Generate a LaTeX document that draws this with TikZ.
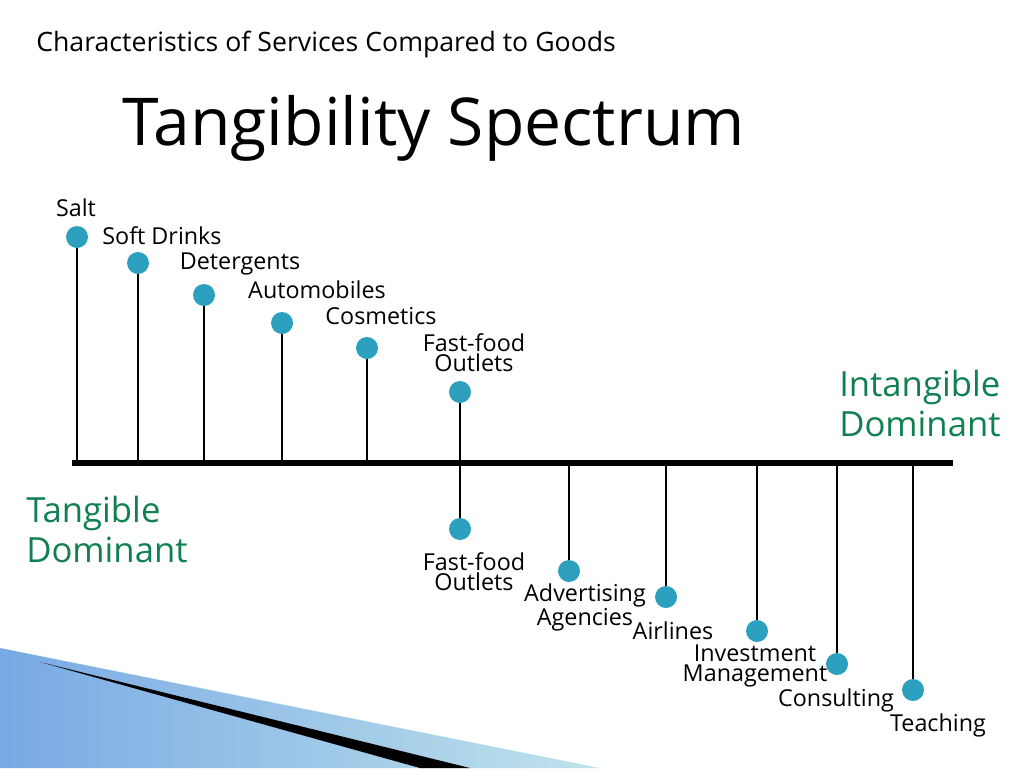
\documentclass[tikz,border=0pt]{standalone}
\usepackage{fontspec}
\setmainfont{Open Sans}
\definecolor{dot}{RGB}{44,160,190}
\definecolor{grn}{RGB}{16,128,80}
\begin{document}
\begin{tikzpicture}[x=0.75pt,y=-0.75pt,
  dotc/.style={circle,fill=dot,inner sep=0pt,minimum size=16.5pt},
  lab/.style={font=\fontsize{17.5}{15}\selectfont,align=center,inner sep=0pt},
  stem/.style={line width=0.9pt},
  dom/.style={font=\fontsize{26}{30}\selectfont,text=grn,align=left,inner sep=0pt,anchor=west}]
\useasboundingbox (0,0) rectangle (1024,768);
% decoration bottom-left
\shade[left color=dot!70!blue!60, right color=dot!30] (0,648) -- (600,768) -- (0,768) -- cycle;
\fill[black] (40,662) -- (470,768) -- (420,768) -- cycle;
\node[anchor=west,font=\fontsize{20}{22}\selectfont,inner sep=0pt] (t1) at (36,44) {Characteristics of Services Compared to Goods};
\node[anchor=west,font=\fontsize{49.5}{55}\selectfont,inner sep=0pt] (t2) at (122,128) {Tangibility Spectrum};
\coordinate (a0) at (72,463); \coordinate (a1) at (953,463);
\draw[line width=4pt] (a0) -- (a1);
% top
\foreach \n/\x/\y in {s1/77/237,s2/138/263,s3/204/295,s4/282/323,s5/367/348,s6/460/392}{
  \node[dotc] (\n) at (\x,\y) {};
  \coordinate (\n b) at (\x,463);
  \draw[stem] (\n) -- (\n b);
}
\node[lab] (l1) at (76,208) {Salt};
\node[lab] (l2) at (162,236) {Soft Drinks};
\node[lab] (l3) at (240,264) {Detergents};
\node[lab] (l4) at (317,290) {Automobiles};
\node[lab] (l5) at (381,316) {Cosmetics};
\node[lab] (l6) at (474,353) {Fast-food\\Outlets};
% bottom
\foreach \n/\x/\y in {b1/460/529,b2/569/571,b3/666/597,b4/757/631,b5/837/664,b6/913/690}{
  \node[dotc] (\n) at (\x,\y) {};
  \coordinate (\n t) at (\x,463);
  \draw[stem] (\n t) -- (\n);
}
\node[lab] (m1) at (474,572) {Fast-food\\Outlets};
\node[lab] (m2) at (585,607) {Advertising\\Agencies};
\node[lab] (m3) at (673,631) {Airlines};
\node[lab] (m4) at (755,666) {Investment\\Management};
\node[lab] (m5) at (836,700) {Consulting};
\node[lab] (m6) at (938,725) {Teaching};
\node[dom] (d1) at (839,403) {Intangible\\Dominant};
\node[dom] (d2) at (26,529) {Tangible\\Dominant};
\end{tikzpicture}
\end{document}
